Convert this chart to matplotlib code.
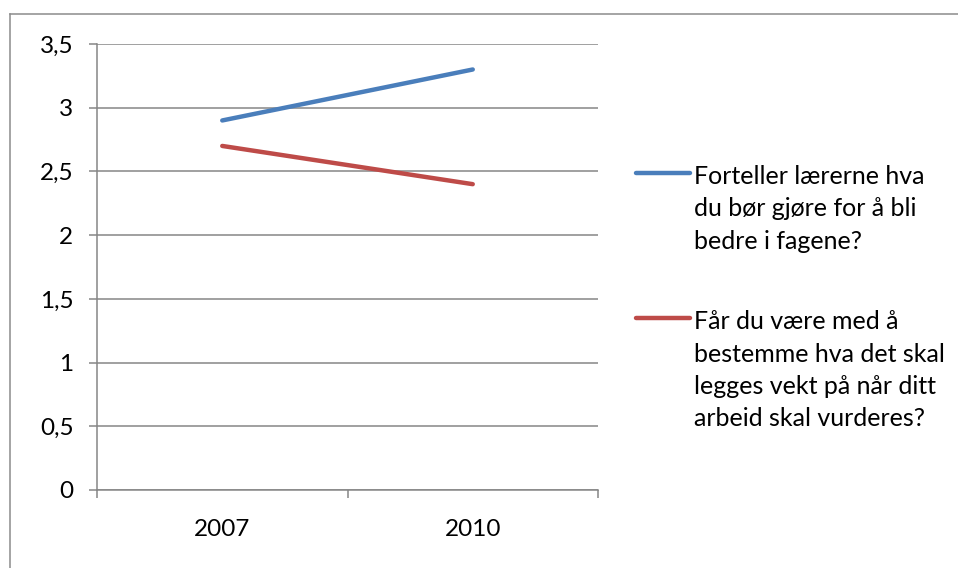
import matplotlib
matplotlib.use('Agg')
import matplotlib.pyplot as plt
from matplotlib.lines import Line2D

plt.rcParams['font.family'] = ['Lato', 'DejaVu Sans']

# data
years = ['2007', '2010']
feedback = [2.9, 3.3]      # Forteller lærerne hva du bør gjøre ...
involvement = [2.7, 2.4]   # Får du være med å bestemme ...
series_labels = ['Forteller lærerne hva\ndu bør gjøre for å bli\nbedre i fagene?',
                 'Får du være med å\nbestemme hva det skal\nlegges vekt på når ditt\narbeid skal vurderes?']
yticks = [0, 0.5, 1, 1.5, 2, 2.5, 3, 3.5]
ytick_labels = ['0', '0,5', '1', '1,5', '2', '2,5', '3', '3,5']

blue = '#4a7ebb'
red = '#be4b48'
grid_gray = '#868686'

W, H = 958, 568
fig = plt.figure(figsize=(W / 100, H / 100), dpi=100)
ax = fig.add_axes([97 / W, 1 - 490 / H, (598 - 97) / W, (490 - 44) / H])

x = list(range(len(years)))
ax.plot(x, feedback, color=blue, lw=3.2, solid_capstyle='round')
ax.plot(x, involvement, color=red, lw=3.2, solid_capstyle='round')

ax.set_xlim(-0.5, len(years) - 0.5)
ax.set_ylim(0, 3.5)
ax.set_yticks(yticks)
ax.set_yticklabels(ytick_labels, fontsize=17.5)
ax.yaxis.grid(True, color=grid_gray, lw=1.1)
ax.set_axisbelow(True)

# category boundaries get the tick marks, labels sit between
ax.set_xticks([i - 0.5 for i in range(len(years) + 1)])
ax.set_xticklabels([])
ax.set_xticks(x, minor=True)
ax.set_xticklabels(years, minor=True, fontsize=17.5)
ax.tick_params(axis='x', which='major', length=6, width=1.1, color=grid_gray)
ax.tick_params(axis='x', which='minor', length=0, pad=21)
ax.tick_params(axis='y', length=6, width=1.1, color=grid_gray, pad=11)

for s in ['top', 'right']:
    ax.spines[s].set_visible(False)
for s in ['left', 'bottom']:
    ax.spines[s].set_color(grid_gray)
    ax.spines[s].set_linewidth(1.1)

# legend drawn by hand so the key lines up with the first text line
leg_rows = [(173, blue), (318, red)]
for (ypx, col), label in zip(leg_rows, series_labels):
    fig.add_artist(Line2D([636 / W, 690 / W], [1 - ypx / H, 1 - ypx / H],
                          color=col, lw=3.2, solid_capstyle='round'))
    fig.text(694 / W, 1 - (ypx - 8) / H, label, fontsize=18, va='top',
             ha='left', linespacing=1.5)

# outer chart border (only top and left visible in the crop)
fig.add_artist(Line2D([9.5 / W, 1], [1 - 13.5 / H, 1 - 13.5 / H], color='#8c8c8c', lw=1.1))
fig.add_artist(Line2D([9.5 / W, 9.5 / W], [0, 1 - 13.5 / H], color='#8c8c8c', lw=1.1))

fig.savefig('out.png', dpi=100)
